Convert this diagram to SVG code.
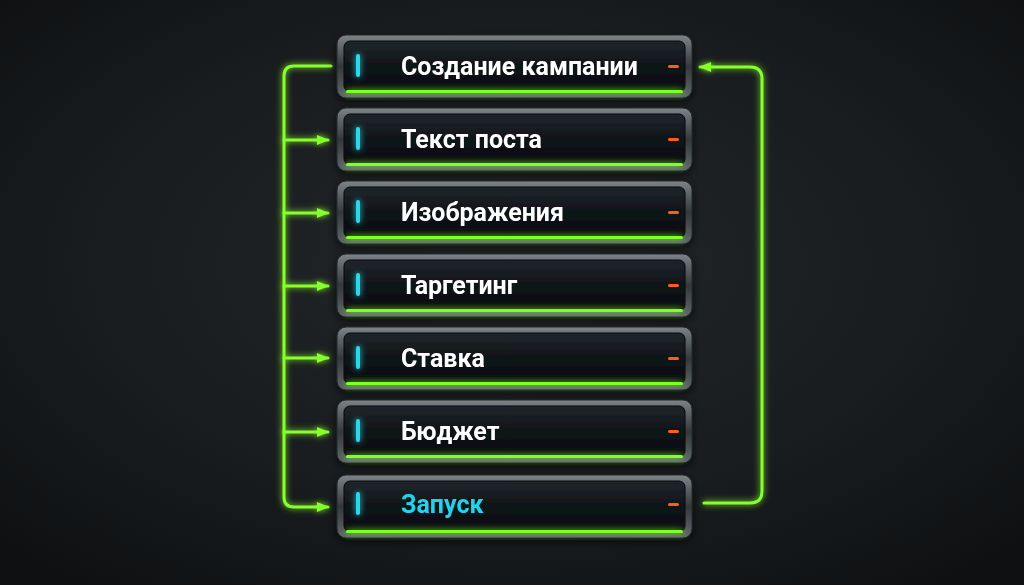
<svg xmlns="http://www.w3.org/2000/svg" width="1024" height="585" viewBox="0 0 1024 585">
<defs>
<radialGradient id="bg" cx="50%" cy="45%" r="70%">
<stop offset="0" stop-color="#222628"/>
<stop offset="0.6" stop-color="#191c1e"/>
<stop offset="1" stop-color="#0e1012"/>
</radialGradient>
<linearGradient id="frame" x1="0" y1="0" x2="0" y2="1">
<stop offset="0" stop-color="#7d8387"/>
<stop offset="0.5" stop-color="#33383b"/>
<stop offset="1" stop-color="#62686c"/>
</linearGradient>
<linearGradient id="panel" x1="0" y1="0" x2="0" y2="1">
<stop offset="0" stop-color="#20262b"/>
<stop offset="0.5" stop-color="#0f1417"/>
<stop offset="1" stop-color="#090c0f"/>
</linearGradient>
<filter id="glow" filterUnits="userSpaceOnUse" x="0" y="0" width="1024" height="585">
<feGaussianBlur stdDeviation="3" result="b"/>
<feMerge><feMergeNode in="b"/><feMergeNode in="SourceGraphic"/></feMerge>
</filter>
<filter id="shadow" x="-20%" y="-30%" width="140%" height="160%">
<feDropShadow dx="0" dy="3" stdDeviation="4" flood-color="#000" flood-opacity="0.7"/>
</filter>
<marker id="arr" viewBox="0 0 12 10" refX="11" refY="5" markerWidth="12" markerHeight="10" orient="auto" markerUnits="userSpaceOnUse">
<path d="M0,0 L12,5 L0,10 Z" fill="#86ff2c"/>
</marker>
</defs>
<style>
.frame{fill:url(#frame);stroke:#24282b;stroke-width:1}
.panel{fill:url(#panel);stroke:#05080a;stroke-width:1}
.bar{fill:#7dff2a;filter:url(#glow)}
.cy{fill:#2ad8ea;filter:url(#glow)}
.or{fill:#ff5c12}
.lbl{font-family:Roboto,"Liberation Sans",sans-serif;font-weight:700;font-size:25px;fill:#ffffff}
.lblc{fill:#22d3ee}
.wire{fill:none;stroke:#86ff2c;stroke-width:3;stroke-linecap:round;stroke-linejoin:round;filter:url(#glow)}
</style>
<rect width="1024" height="585" fill="url(#bg)"/>

<g id="connectors">
<path class="wire" d="M331,66 H294 Q284,66 284,76 V497 Q284,507 294,507 H328" marker-end="url(#arr)"/>
<path class="wire" d="M284,140 H328" marker-end="url(#arr)"/>
<path class="wire" d="M284,213 H328" marker-end="url(#arr)"/>
<path class="wire" d="M284,286 H328" marker-end="url(#arr)"/>
<path class="wire" d="M284,358 H328" marker-end="url(#arr)"/>
<path class="wire" d="M284,432 H328" marker-end="url(#arr)"/>
<path class="wire" d="M704,503 H750 Q762,503 762,491 V79 Q762,67 750,67 H700" marker-end="url(#arr)"/>
</g>

<g id="n1" filter="url(#shadow)">
<rect class="frame" x="337" y="35" width="355" height="63" rx="9"/>
<rect class="panel" x="344" y="41" width="341" height="51" rx="6"/>
<rect class="bar" x="346" y="90" width="337" height="3" rx="1.5"/>
<rect class="cy" x="356" y="54" width="4" height="23" rx="2"/>
<rect class="or" x="668" y="65" width="11" height="3" rx="1.5"/>
<text class="lbl" x="401" y="75">Создание кампании</text>
</g>
<g id="n2" filter="url(#shadow)">
<rect class="frame" x="337" y="108" width="355" height="63" rx="9"/>
<rect class="panel" x="344" y="114" width="341" height="51" rx="6"/>
<rect class="bar" x="346" y="163" width="337" height="3" rx="1.5"/>
<rect class="cy" x="356" y="127" width="4" height="23" rx="2"/>
<rect class="or" x="668" y="138" width="11" height="3" rx="1.5"/>
<text class="lbl" x="401" y="148">Текст поста</text>
</g>
<g id="n3" filter="url(#shadow)">
<rect class="frame" x="337" y="181" width="355" height="63" rx="9"/>
<rect class="panel" x="344" y="187" width="341" height="51" rx="6"/>
<rect class="bar" x="346" y="236" width="337" height="3" rx="1.5"/>
<rect class="cy" x="356" y="200" width="4" height="23" rx="2"/>
<rect class="or" x="668" y="211" width="11" height="3" rx="1.5"/>
<text class="lbl" x="401" y="221">Изображения</text>
</g>
<g id="n4" filter="url(#shadow)">
<rect class="frame" x="337" y="254" width="355" height="63" rx="9"/>
<rect class="panel" x="344" y="260" width="341" height="51" rx="6"/>
<rect class="bar" x="346" y="309" width="337" height="3" rx="1.5"/>
<rect class="cy" x="356" y="273" width="4" height="23" rx="2"/>
<rect class="or" x="668" y="284" width="11" height="3" rx="1.5"/>
<text class="lbl" x="401" y="294">Таргетинг</text>
</g>
<g id="n5" filter="url(#shadow)">
<rect class="frame" x="337" y="327" width="355" height="63" rx="9"/>
<rect class="panel" x="344" y="333" width="341" height="51" rx="6"/>
<rect class="bar" x="346" y="382" width="337" height="3" rx="1.5"/>
<rect class="cy" x="356" y="346" width="4" height="23" rx="2"/>
<rect class="or" x="668" y="357" width="11" height="3" rx="1.5"/>
<text class="lbl" x="401" y="367">Ставка</text>
</g>
<g id="n6" filter="url(#shadow)">
<rect class="frame" x="337" y="400" width="355" height="63" rx="9"/>
<rect class="panel" x="344" y="406" width="341" height="51" rx="6"/>
<rect class="bar" x="346" y="455" width="337" height="3" rx="1.5"/>
<rect class="cy" x="356" y="419" width="4" height="23" rx="2"/>
<rect class="or" x="668" y="430" width="11" height="3" rx="1.5"/>
<text class="lbl" x="401" y="440">Бюджет</text>
</g>
<g id="n7" filter="url(#shadow)">
<rect class="frame" x="337" y="475" width="355" height="63" rx="9"/>
<rect class="panel" x="344" y="481" width="341" height="51" rx="6"/>
<rect class="bar" x="346" y="530" width="337" height="3" rx="1.5"/>
<rect class="cy" x="356" y="492" width="4" height="23" rx="2"/>
<rect class="or" x="668" y="503" width="11" height="3" rx="1.5"/>
<text class="lbl lblc" x="401" y="513">Запуск</text>
</g>
</svg>
